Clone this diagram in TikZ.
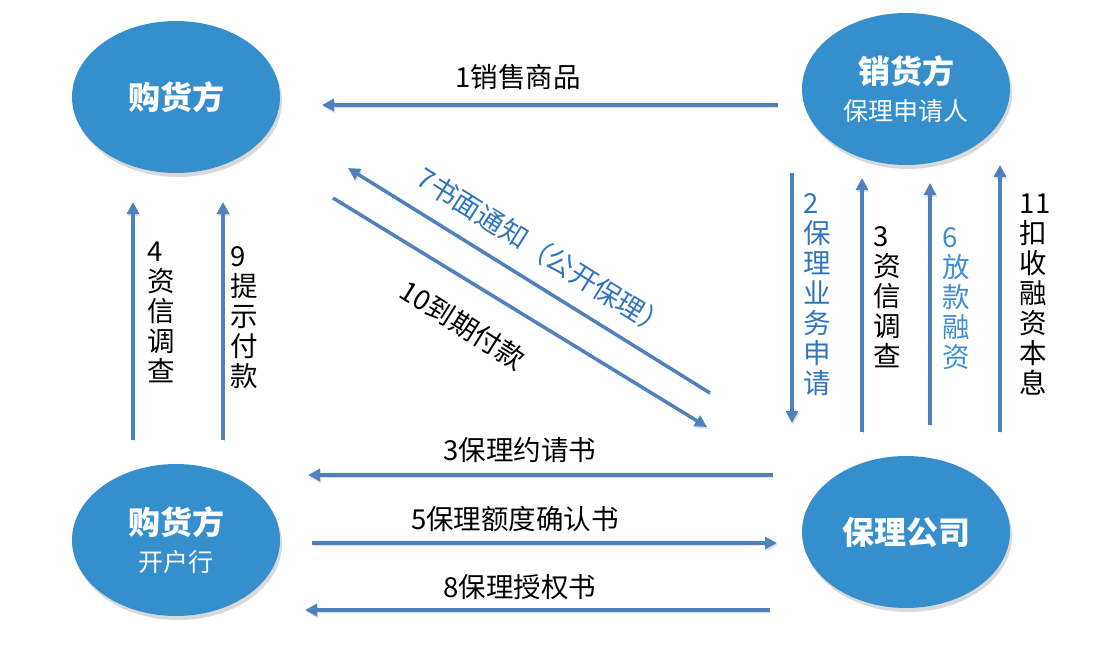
\documentclass[tikz,border=0pt]{standalone}
\usepackage{fontspec}
\setmainfont{Noto Sans CJK SC}
\usepackage{tikz}
\usetikzlibrary{shapes,arrows.meta,positioning,shadows}
\definecolor{ellblue}{RGB}{52,143,204}
\definecolor{arrowblue}{RGB}{79,129,189}
\definecolor{txtblue}{RGB}{47,117,192}
\definecolor{ltblue}{RGB}{62,142,210}
\tikzstyle{party} = [ellipse, fill=ellblue, draw=none, text=white, align=center, font=\fontsize{25}{37}\selectfont, minimum width=208pt, minimum height=152pt, drop shadow={opacity=0.3, shadow xshift=2pt, shadow yshift=-4pt}]
\tikzstyle{lbl} = [text=black, inner sep=0pt, font=\fontsize{27.5}{30}\selectfont]
\tikzstyle{vlbl} = [lbl, align=left]
\tikzstyle{tedge} = [draw=arrowblue, line width=3.5pt, -{Triangle[length=12pt,width=12pt]}, preaction={draw=black!12, transform canvas={xshift=1pt,yshift=-2pt}}]

\begin{document}
\begin{tikzpicture}[x=1pt, y=-1pt]
\useasboundingbox (0,0) rectangle (1102,661);

% parties =============================
\node[party] (buyer) at (176,97) {\fontsize{32}{37}\selectfont\bfseries 购货方};
\node[party] (seller) at (906,89) {{\fontsize{32}{37}\selectfont\bfseries 销货方}\\保理申请人};
\node[party] (bank) at (176,540) {{\fontsize{32}{37}\selectfont\bfseries 购货方}\\开户行};
\node[party] (factor) at (906,532) {\fontsize{32}{37}\selectfont\bfseries 保理公司};

% arrow ends
\coordinate (a1s) at (778,105);  \coordinate (a1e) at (322,105);
\coordinate (a4s) at (133,440);  \coordinate (a4e) at (133,202);
\coordinate (a9s) at (223,440);  \coordinate (a9e) at (223,202);
\coordinate (a2s) at (792,173);  \coordinate (a2e) at (792,423);
\coordinate (a3s) at (862,432);  \coordinate (a3e) at (862,178);
\coordinate (a6s) at (930,425);  \coordinate (a6e) at (930,183);
\coordinate (a11s) at (1000,432); \coordinate (a11e) at (1000,165);
\coordinate (a7s) at (710,393);  \coordinate (a7e) at (348,168);
\coordinate (a10s) at (333,198); \coordinate (a10e) at (707,427);
\coordinate (b3s) at (773,475);  \coordinate (b3e) at (308,475);
\coordinate (b5s) at (312,543);  \coordinate (b5e) at (777,543);
\coordinate (b8s) at (770,610);  \coordinate (b8e) at (305,610);

% labels
\node[lbl] (l1) at (518,77) {1销售商品};
\node[vlbl] (l4) at (161,312) {4\\资\\信\\调\\查};
\node[vlbl] (l9) at (244,318) {9\\提\\示\\付\\款};
\node[vlbl, text=txtblue] (l2) at (817,295) {2\\保\\理\\业\\务\\申\\请};
\node[vlbl] (l3) at (887,297) {3\\资\\信\\调\\查};
\node[vlbl, text=ltblue] (l6) at (956,299) {6\\放\\款\\融\\资};
\node[vlbl] (l11) at (1035,295) {11\\扣\\收\\融\\资\\本\\息};
\node[lbl, text=txtblue, rotate=-32] (l7) at (543,252) {7书面通知（公开保理）};
\node[lbl, rotate=-32] (l10) at (463,325) {10到期付款};
\node[lbl] (lb3) at (520,450) {3保理约请书};
\node[lbl] (lb5) at (515,519) {5保理额度确认书};
\node[lbl] (lb8) at (520,587) {8保理授权书};

%edges
\path[tedge] (a1s) -- (a1e);
\path[tedge] (a4s) -- (a4e);
\path[tedge] (a9s) -- (a9e);
\path[tedge] (a2s) -- (a2e);
\path[tedge] (a3s) -- (a3e);
\path[tedge] (a6s) -- (a6e);
\path[tedge] (a11s) -- (a11e);
\path[tedge] (a7s) -- (a7e);
\path[tedge] (a10s) -- (a10e);
\path[tedge] (b3s) -- (b3e);
\path[tedge] (b5s) -- (b5e);
\path[tedge] (b8s) -- (b8e);

\end{tikzpicture}
\end{document}
